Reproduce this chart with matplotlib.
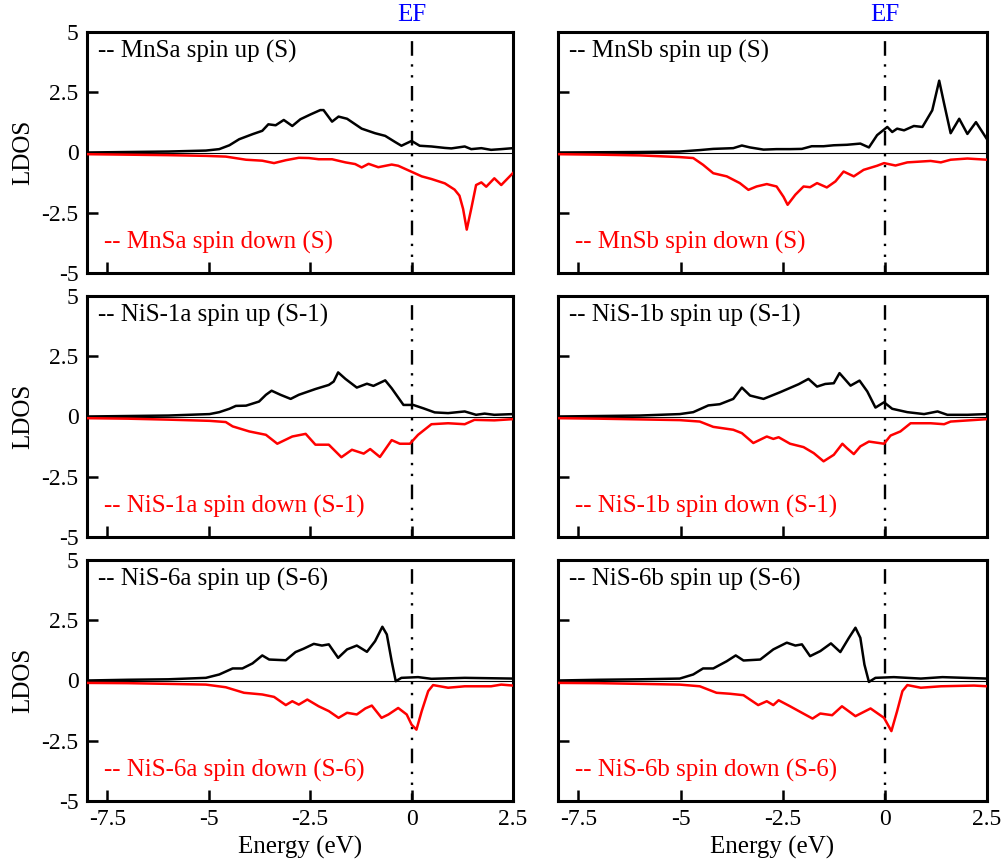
import matplotlib
matplotlib.use("Agg")
import matplotlib.pyplot as plt
import matplotlib.transforms as mtransforms

plt.rcParams['font.family'] = ['Liberation Serif', 'DejaVu Serif']

# --- MnSa (S) ---
mnsa_up_e = [-8, -7, -6, -5.07, -4.74, -4.49, -4.25, -3.92, -3.68, -3.53, -3.35, -3.15, -2.94, -2.74,
             -2.49, -2.25, -2.17, -1.96, -1.80, -1.59, -1.23, -0.90, -0.65, -0.41, -0.25, 0.0, 0.2,
             0.49, 0.82, 0.98, 1.31, 1.47, 1.72, 1.96, 2.21, 2.5]
mnsa_up = [0.0, 0.02, 0.04, 0.08, 0.14, 0.3, 0.55, 0.76, 0.9, 1.17, 1.13, 1.35, 1.1, 1.38,
           1.58, 1.76, 1.76, 1.28, 1.49, 1.40, 0.99, 0.80, 0.69, 0.44, 0.28, 0.48, 0.28,
           0.25, 0.19, 0.17, 0.25, 0.14, 0.18, 0.11, 0.14, 0.18]
mnsa_dn_e = [-8, -7, -6, -5.07, -4.58, -4.08, -3.68, -3.39, -3.10, -2.78, -2.53, -2.29, -1.96, -1.63,
             -1.39, -1.23, -1.06, -0.82, -0.49, -0.33, 0.0, 0.25, 0.49, 0.82, 1.06, 1.18, 1.27,
             1.36, 1.47, 1.59, 1.72, 1.84, 2.04, 2.21, 2.5]
mnsa_dn = [-0.07, -0.09, -0.11, -0.14, -0.17, -0.30, -0.34, -0.44, -0.32, -0.22, -0.23, -0.28, -0.28, -0.41,
           -0.48, -0.62, -0.47, -0.61, -0.50, -0.55, -0.80, -0.99, -1.10, -1.28, -1.54, -1.79, -2.34,
           -3.2, -2.34, -1.35, -1.24, -1.42, -1.07, -1.35, -0.85]

# --- MnSb (S) ---
mnsb_up_e = [-8, -7, -6, -5.02, -4.53, -4.2, -3.71, -3.5, -3.3, -2.97, -2.65, -2.32, -2.03, -1.79,
             -1.5, -1.25, -0.93, -0.6, -0.39, -0.19, 0.06, 0.18, 0.3, 0.47, 0.71, 0.92, 1.16,
             1.33, 1.45, 1.61, 1.82, 2.02, 2.23, 2.5]
mnsb_up = [0.0, 0.01, 0.02, 0.04, 0.1, 0.15, 0.18, 0.29, 0.21, 0.12, 0.14, 0.14, 0.15, 0.26,
           0.26, 0.30, 0.32, 0.37, 0.21, 0.72, 1.06, 0.85, 0.99, 0.92, 1.10, 1.06, 1.75,
           2.98, 2.03, 0.80, 1.40, 0.77, 1.26, 0.55]
mnsb_dn_e = [-8, -7, -6, -5.02, -4.69, -4.45, -4.2, -3.87, -3.55, -3.34, -3.14, -2.89, -2.65, -2.48,
             -2.38, -2.19, -1.99, -1.83, -1.66, -1.42, -1.21, -1.01, -0.76, -0.52, -0.19, -0.02,
             0.26, 0.55, 1.12, 1.37, 1.61, 2.02, 2.5]
mnsb_dn = [-0.07, -0.09, -0.12, -0.19, -0.23, -0.51, -0.86, -0.99, -1.27, -1.55, -1.41, -1.31, -1.41, -1.84,
           -2.17, -1.75, -1.41, -1.44, -1.27, -1.45, -1.2, -0.79, -0.99, -0.72, -0.55, -0.44,
           -0.54, -0.41, -0.35, -0.41, -0.30, -0.25, -0.30]

# --- NiS-1a (S-1) ---
nis1a_up_e = [-8, -7, -6, -4.98, -4.74, -4.49, -4.33, -4.08, -3.76, -3.59, -3.45, -3.23, -2.98, -2.78,
              -2.37, -2.04, -1.92, -1.81, -1.63, -1.35, -1.1, -0.94, -0.65, -0.49, -0.2, 0.04,
              0.29, 0.57, 0.9, 1.31, 1.59, 1.8, 2.04, 2.5]
nis1a_up = [0.0, 0.02, 0.04, 0.1, 0.18, 0.32, 0.44, 0.45, 0.62, 0.9, 1.07, 0.9, 0.73, 0.9,
            1.14, 1.31, 1.45, 1.83, 1.56, 1.20, 1.36, 1.27, 1.50, 1.17, 0.48, 0.48,
            0.34, 0.17, 0.14, 0.21, 0.07, 0.12, 0.07, 0.1]
nis1a_dn_e = [-8, -7, -6, -4.98, -4.58, -4.41, -4.0, -3.59, -3.31, -2.94, -2.61, -2.37, -2.04, -1.73,
              -1.47, -1.18, -1.02, -0.78, -0.49, -0.29, -0.04, 0.16, 0.49, 0.9, 1.31, 1.55, 2.04, 2.5]
nis1a_dn = [-0.07, -0.09, -0.13, -0.18, -0.23, -0.41, -0.62, -0.76, -1.13, -0.83, -0.72, -1.17, -1.17, -1.69,
            -1.38, -1.54, -1.35, -1.68, -0.98, -1.13, -1.13, -0.76, -0.32, -0.28, -0.32, -0.14, -0.16, -0.11]

# --- NiS-1b (S-1) ---
nis1b_up_e = [-8, -7, -6, -5.02, -4.69, -4.32, -4.04, -3.71, -3.5, -3.3, -2.97, -2.56, -2.11, -1.87,
              -1.66, -1.46, -1.25, -1.11, -0.84, -0.62, -0.43, -0.23, -0.02, 0.18, 0.55, 0.96,
              1.29, 1.53, 2.02, 2.5]
nis1b_up = [0.0, 0.02, 0.04, 0.1, 0.18, 0.46, 0.51, 0.73, 1.2, 0.87, 0.73, 1.01, 1.34, 1.56,
            1.24, 1.35, 1.38, 1.80, 1.28, 1.49, 1.04, 0.37, 0.59, 0.32, 0.18, 0.1,
            0.21, 0.07, 0.07, 0.1]
nis1b_dn_e = [-8, -7, -6, -5.02, -4.53, -4.2, -3.71, -3.5, -3.22, -2.89, -2.73, -2.6, -2.32, -1.99,
              -1.74, -1.5, -1.25, -1.04, -0.93, -0.76, -0.6, -0.39, -0.02, 0.14, 0.38, 0.63,
              1.12, 1.45, 1.61, 2.5]
nis1b_dn = [-0.07, -0.09, -0.12, -0.15, -0.21, -0.43, -0.55, -0.69, -1.1, -0.83, -0.93, -0.86, -1.13, -1.27,
            -1.52, -1.86, -1.59, -1.13, -1.31, -1.56, -1.24, -1.04, -1.13, -0.79, -0.62, -0.28,
            -0.28, -0.32, -0.21, -0.11]

# --- NiS-6a (S-6) ---
nis6a_up_e = [-8, -7, -6, -5.07, -4.74, -4.41, -4.17, -3.92, -3.68, -3.51, -3.1, -2.86, -2.66, -2.41,
              -2.21, -2.04, -1.81, -1.59, -1.35, -1.1, -0.9, -0.72, -0.61, -0.49, -0.39, -0.25,
              0.16, 0.49, 1.31, 2.5]
nis6a_up = [0.0, 0.03, 0.05, 0.11, 0.25, 0.5, 0.5, 0.71, 1.04, 0.87, 0.84, 1.18, 1.32, 1.52,
            1.45, 1.5, 0.94, 1.29, 1.45, 1.19, 1.63, 2.23, 1.91, 0.8, -0.03, 0.11,
            0.14, 0.07, 0.11, 0.08]
nis6a_dn_e = [-8, -7, -6, -5.07, -4.58, -4.13, -3.68, -3.39, -3.1, -2.94, -2.78, -2.57, -2.29, -2.04,
              -1.8, -1.59, -1.35, -1.14, -0.98, -0.74, -0.57, -0.33, -0.12, 0.0, 0.12, 0.25,
              0.41, 0.53, 0.9, 1.31, 1.96, 2.21, 2.5]
nis6a_dn = [-0.1, -0.11, -0.14, -0.17, -0.28, -0.51, -0.58, -0.68, -1.02, -0.86, -1.0, -0.79, -1.07, -1.27,
            -1.55, -1.34, -1.41, -1.16, -1.04, -1.55, -1.41, -1.14, -1.41, -1.83, -2.04, -1.27,
            -0.44, -0.19, -0.3, -0.24, -0.24, -0.17, -0.21]

# --- NiS-6b (S-6) ---
nis6b_up_e = [-8, -7, -6, -5.02, -4.69, -4.45, -4.2, -3.87, -3.65, -3.46, -3.05, -2.73, -2.4, -2.19,
              -2.03, -1.83, -1.58, -1.32, -1.09, -0.88, -0.72, -0.6, -0.5, -0.39, -0.23, 0.22,
              0.88, 1.41, 2.5]
nis6b_up = [0.0, 0.03, 0.05, 0.08, 0.25, 0.5, 0.5, 0.8, 1.04, 0.83, 0.87, 1.29, 1.57, 1.45,
            1.5, 1.01, 1.22, 1.54, 1.18, 1.77, 2.19, 1.77, 0.66, -0.06, 0.11, 0.14,
            0.08, 0.14, 0.08]
nis6b_dn_e = [-8, -7, -6, -5.02, -4.53, -4.12, -3.79, -3.46, -3.1, -2.89, -2.73, -2.6, -2.32, -2.03,
              -1.77, -1.58, -1.29, -1.05, -0.72, -0.35, -0.02, 0.16, 0.3, 0.43, 0.55, 0.88,
              1.37, 2.18, 2.5]
nis6b_dn = [-0.1, -0.11, -0.14, -0.17, -0.24, -0.51, -0.55, -0.61, -1.02, -0.86, -1.02, -0.82, -1.07, -1.34,
            -1.58, -1.37, -1.44, -1.07, -1.48, -1.16, -1.55, -2.1, -1.27, -0.44, -0.19, -0.3,
            -0.24, -0.21, -0.24]

up_labels = ['-- MnSa spin up (S)', '-- MnSb spin up (S)',
             '-- NiS-1a spin up (S-1)', '-- NiS-1b spin up (S-1)',
             '-- NiS-6a spin up (S-6)', '-- NiS-6b spin up (S-6)']
dn_labels = ['-- MnSa spin down (S)', '-- MnSb spin down (S)',
             '-- NiS-1a spin down (S-1)', '-- NiS-1b spin down (S-1)',
             '-- NiS-6a spin down (S-6)', '-- NiS-6b spin down (S-6)']
x_ticks = [-7.5, -5, -2.5, 0, 2.5]
x_tick_labels = ['-7.5', '-5', '-2.5', '0', '2.5']
y_ticks = [-5, -2.5, 0, 2.5, 5]
y_tick_labels = ['-5', '-2.5', '0', '2.5', '5']

panels = [
    (mnsa_up_e, mnsa_up, mnsa_dn_e, mnsa_dn),
    (mnsb_up_e, mnsb_up, mnsb_dn_e, mnsb_dn),
    (nis1a_up_e, nis1a_up, nis1a_dn_e, nis1a_dn),
    (nis1b_up_e, nis1b_up, nis1b_dn_e, nis1b_dn),
    (nis6a_up_e, nis6a_up, nis6a_dn_e, nis6a_dn),
    (nis6b_up_e, nis6b_up, nis6b_dn_e, nis6b_dn),
]

fig = plt.figure(figsize=(10.04, 8.64), dpi=100)

col_left = [87 / 1004, 558 / 1004]
col_width = [426 / 1004, 429 / 1004]
row_bottom = [1 - 273 / 864, 1 - 537 / 864, 1 - 801 / 864]
row_height = 241 / 864

for i, (ue, u, de, d) in enumerate(panels):
    r, c = divmod(i, 2)
    ax = fig.add_axes([col_left[c], row_bottom[r], col_width[c], row_height])
    ax.axhline(0, color='black', lw=0.8, zorder=1)
    ax.axvline(0, color='black', lw=1.7, zorder=1,
               linestyle=(3, (6.2, 3.6, 1.0, 3.6, 1.0, 3.6)))
    ax.plot(ue, u, color='black', lw=1.8, zorder=3, solid_joinstyle='round')
    ax.plot(de, d, color='red', lw=1.8, zorder=3, solid_joinstyle='round')
    ax.set_xlim(-8, 2.5)
    ax.set_ylim(-5, 5)
    ax.set_xticks(x_ticks)
    ax.set_yticks(y_ticks)
    ax.tick_params(direction='in', length=8, width=1.8, labelsize=17, pad=6,
                   top=False, right=False, colors='black')
    for s in ax.spines.values():
        s.set_linewidth(2.2)
    if r == 2:
        ax.set_xticklabels(x_tick_labels)
        ax.set_xlabel('Energy (eV)', fontsize=18)
        ax.xaxis.set_label_coords(0.5, -0.145)
    else:
        ax.set_xticklabels([])
    if c == 0:
        ax.set_yticklabels(y_tick_labels)
        ax.set_ylabel('LDOS', fontsize=18)
        ax.yaxis.set_label_coords(-0.125, 0.5)
    else:
        ax.set_yticklabels([])
    ax.text(-7.72, 4.2, up_labels[i], color='black', fontsize=18, va='center', ha='left')
    ax.text(-7.58, -3.75, dn_labels[i], color='red', fontsize=18, va='center', ha='left')
    if r == 0:
        trans = mtransforms.blended_transform_factory(ax.transData, ax.transAxes)
        ax.text(0, 1.025, 'EF', color='blue', fontsize=18, ha='center', va='bottom',
                transform=trans)

fig.savefig('out.png', dpi=100)
